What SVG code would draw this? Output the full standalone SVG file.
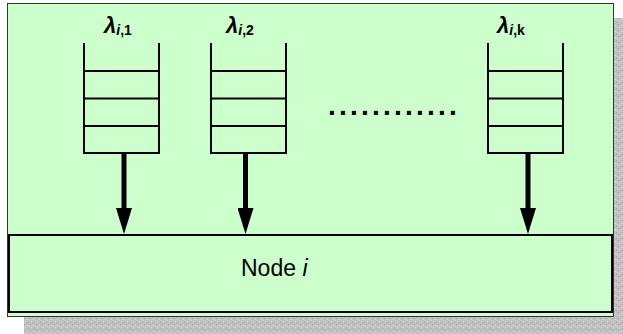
<svg xmlns="http://www.w3.org/2000/svg" width="623" height="334" viewBox="0 0 623 334">
  <style>
    .panel { fill: #ccffcc; stroke: #333333; stroke-width: 1; }
    .node { fill: #ccffcc; stroke: #000000; stroke-width: 2; }
    .queue { fill: none; stroke: #000000; stroke-width: 2; }
    .conn { stroke: #000000; stroke-width: 5; fill: none; }
    .lam { font-family: "Liberation Sans", Arial, sans-serif; font-weight: bold; font-style: italic; font-size: 22px; fill: #000; }
    .sub { font-family: "Liberation Sans", Arial, sans-serif; font-weight: bold; font-size: 14px; fill: #000; }
    .label { font-family: "Liberation Sans", Arial, sans-serif; font-size: 23px; fill: #000; }
    .dots { font-family: "Liberation Sans", Arial, sans-serif; font-weight: bold; font-size: 28px; letter-spacing: 3.22px; fill: #000; }
  </style>
  <defs>
    <pattern id="granite" width="6" height="6" patternUnits="userSpaceOnUse">
      <rect width="6" height="6" fill="#c2c2c2"/>
      <rect x="0" y="0" width="1" height="1" fill="#9e9e9e"/>
      <rect x="3" y="1" width="1" height="1" fill="#e0e0e0"/>
      <rect x="1" y="3" width="1" height="1" fill="#dcdcdc"/>
      <rect x="4" y="4" width="1" height="1" fill="#a4a4a4"/>
      <rect x="2" y="5" width="1" height="1" fill="#b0b0b0"/>
      <rect x="5" y="2" width="1" height="1" fill="#d4d4d4"/>
    </pattern>
    <marker id="arrow" markerUnits="userSpaceOnUse" markerWidth="26" markerHeight="16" refX="0" refY="8" orient="auto" viewBox="0 0 26 16">
      <path d="M0,0 L26,8 L0,16 Z" fill="#000000"/>
    </marker>
  </defs>

  <rect id="shadow" x="24" y="18" width="599" height="316" fill="url(#granite)"/>
  <rect id="panel" class="panel" x="7.5" y="3.5" width="606" height="313"/>

  <g id="queue1">
    <path class="queue" d="M84,43 V153 H159 V43 M84,71 H159 M84,98.5 H159 M84,126 H159"/>
    <text x="104" y="33" class="lam">λ<tspan class="sub" dy="2">i</tspan><tspan class="sub" font-style="normal">,1</tspan></text>
  </g>
  <g id="queue2">
    <path class="queue" d="M211,43 V153 H286 V43 M211,71 H286 M211,98.5 H286 M211,126 H286"/>
    <text x="226" y="33" class="lam">λ<tspan class="sub" dy="2">i</tspan><tspan class="sub" font-style="normal">,2</tspan></text>
  </g>
  <g id="queuek">
    <path class="queue" d="M488,43 V153 H563 V43 M488,71 H563 M488,98.5 H563 M488,126 H563"/>
    <text x="497" y="33" class="lam">λ<tspan class="sub" dy="2">i</tspan><tspan class="sub" font-style="normal">,k</tspan></text>
  </g>
  <text id="ellipsis" class="dots" x="328" y="115">............</text>

  <g id="node-i">
    <rect class="node" x="9" y="235" width="603" height="77"/>
    <text x="241" y="276" class="label">Node <tspan font-style="italic">i</tspan></text>
  </g>

  <g id="connectors">
    <line class="conn" x1="124" y1="153" x2="124" y2="208" marker-end="url(#arrow)"/>
    <line class="conn" x1="245.5" y1="153" x2="245.5" y2="208" marker-end="url(#arrow)"/>
    <line class="conn" x1="528" y1="153" x2="528" y2="208" marker-end="url(#arrow)"/>
  </g>
</svg>
